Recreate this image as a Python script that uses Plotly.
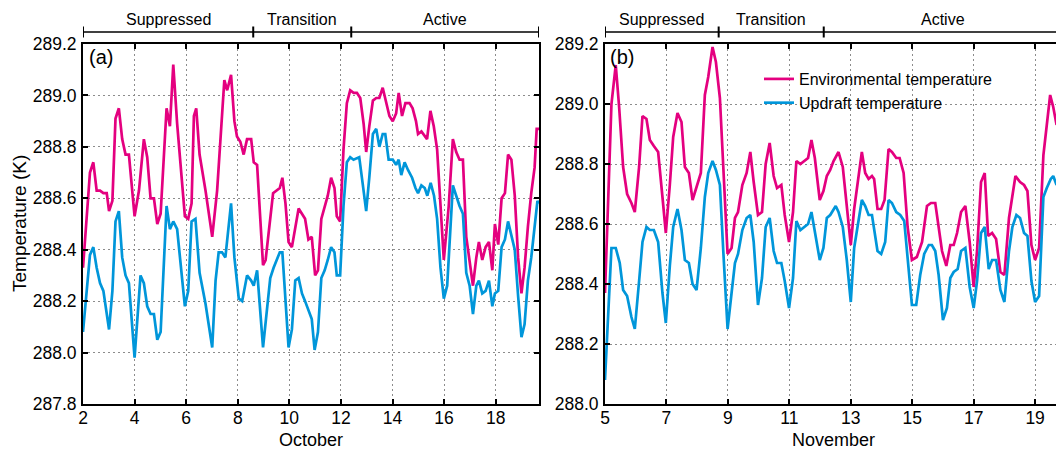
import plotly.graph_objects as go

# ---------------- October (panel a) ----------------
oct_env_day = [2.0, 2.27, 2.40, 2.53, 2.66, 2.79, 2.92, 3.01, 3.14, 3.26,
               3.39, 3.52, 3.65, 3.78, 4.00, 4.17, 4.36, 4.49, 4.62, 4.75,
               4.88, 5.01, 5.24, 5.37, 5.50, 5.65, 5.95, 6.08, 6.21, 6.30,
               6.39, 6.52, 6.75, 7.01, 7.20, 7.48, 7.59, 7.74, 7.87, 7.97,
               8.10, 8.23, 8.36, 8.52, 8.62, 8.75, 8.98, 9.08, 9.37, 9.63,
               9.73, 9.85, 9.97, 10.10, 10.36, 10.61, 10.74, 10.87, 11.00, 11.11,
               11.24, 11.37, 11.49, 11.62, 11.75, 11.84, 11.97, 12.10, 12.23, 12.36,
               12.49, 12.62, 12.75, 12.88, 12.98, 13.10, 13.24, 13.37, 13.49, 13.62,
               13.75, 13.88, 14.01, 14.14, 14.24, 14.37, 14.50, 14.66, 14.78, 14.91,
               14.99, 15.12, 15.34, 15.47, 15.60, 15.73, 15.99, 16.18, 16.34, 16.47,
               16.60, 16.73, 16.86, 16.99, 17.12, 17.25, 17.35, 17.48, 17.61, 17.74,
               17.87, 17.97, 18.10, 18.23, 18.36, 18.48, 18.61, 18.74, 18.87, 19.00,
               19.12, 19.25, 19.38, 19.51, 19.59, 19.68]
oct_env = [288.33, 288.70, 288.74, 288.63, 288.63, 288.62, 288.62, 288.55, 288.59, 288.91,
           288.95, 288.83, 288.77, 288.77, 288.53, 288.63, 288.83, 288.76, 288.60, 288.60,
           288.50, 288.54, 288.95, 288.88, 289.12, 288.89, 288.53, 288.52, 288.58, 288.92,
           288.95, 288.77, 288.63, 288.45, 288.63, 289.06, 289.02, 289.08, 288.90, 288.84,
           288.82, 288.77, 288.83, 288.83, 288.74, 288.73, 288.34, 288.36, 288.62, 288.64,
           288.68, 288.58, 288.43, 288.41, 288.56, 288.52, 288.44, 288.45, 288.30, 288.32,
           288.52, 288.57, 288.61, 288.68, 288.64, 288.53, 288.51, 288.79, 288.97, 289.02,
           289.01, 289.01, 288.99, 288.89, 288.78, 288.88, 288.98, 288.99, 288.99, 289.03,
           288.98, 288.92, 288.90, 288.93, 289.01, 288.92, 288.97, 288.97, 288.95, 288.90,
           288.85, 288.86, 288.83, 288.94, 288.88, 288.79, 288.36, 288.57, 288.83, 288.78,
           288.75, 288.75, 288.45, 288.36, 288.26, 288.37, 288.43, 288.36, 288.41, 288.43,
           288.32, 288.50, 288.42, 288.60, 288.62, 288.77, 288.75, 288.61, 288.37, 288.23,
           288.33, 288.49, 288.62, 288.72, 288.87, 288.87]

oct_up_day = [2.0, 2.27, 2.40, 2.53, 2.66, 2.79, 3.01, 3.14, 3.26, 3.39,
              3.52, 3.65, 3.78, 4.00, 4.23, 4.36, 4.49, 4.62, 4.75, 4.88,
              5.01, 5.24, 5.37, 5.50, 5.65, 5.95, 6.08, 6.21, 6.36, 6.52,
              6.75, 7.01, 7.14, 7.26, 7.39, 7.52, 7.74, 7.87, 8.04, 8.17,
              8.36, 8.52, 8.62, 8.75, 8.98, 9.14, 9.26, 9.39, 9.63, 9.73,
              9.97, 10.10, 10.23, 10.36, 10.49, 10.61, 10.87, 10.98, 11.11, 11.24,
              11.37, 11.49, 11.62, 11.75, 11.84, 11.97, 12.10, 12.23, 12.36, 12.49,
              12.71, 12.84, 12.98, 13.10, 13.24, 13.37, 13.49, 13.62, 13.72, 13.85,
              14.01, 14.14, 14.24, 14.34, 14.47, 14.60, 14.76, 14.89, 14.99, 15.12,
              15.25, 15.35, 15.48, 15.61, 15.73, 15.86, 15.99, 16.12, 16.34, 16.47,
              16.60, 16.73, 16.86, 16.99, 17.12, 17.25, 17.35, 17.48, 17.61, 17.74,
              17.87, 17.97, 18.10, 18.23, 18.36, 18.48, 18.61, 18.74, 18.87, 19.00,
              19.12, 19.25, 19.38, 19.51, 19.62, 19.68]
oct_up = [288.08, 288.38, 288.41, 288.33, 288.27, 288.24, 288.09, 288.24, 288.51, 288.55,
          288.37, 288.30, 288.27, 287.98, 288.30, 288.27, 288.18, 288.15, 288.15, 288.05,
          288.08, 288.57, 288.48, 288.51, 288.48, 288.18, 288.24, 288.51, 288.52, 288.31,
          288.19, 288.02, 288.28, 288.39, 288.39, 288.37, 288.58, 288.37, 288.21, 288.20,
          288.30, 288.28, 288.26, 288.32, 288.02, 288.18, 288.29, 288.33, 288.39, 288.39,
          288.02, 288.09, 288.28, 288.29, 288.23, 288.20, 288.13, 288.01, 288.08, 288.29,
          288.32, 288.36, 288.41, 288.39, 288.30, 288.30, 288.57, 288.74, 288.76, 288.75,
          288.76, 288.66, 288.55, 288.68, 288.85, 288.87, 288.80, 288.85, 288.85, 288.75,
          288.75, 288.73, 288.75, 288.69, 288.74, 288.71, 288.68, 288.64, 288.62, 288.65,
          288.64, 288.61, 288.66, 288.61, 288.52, 288.33, 288.21, 288.26, 288.65, 288.61,
          288.57, 288.54, 288.31, 288.26, 288.15, 288.26, 288.28, 288.23, 288.24, 288.28,
          288.18, 288.23, 288.24, 288.41, 288.44, 288.51, 288.46, 288.40, 288.22, 288.06,
          288.11, 288.28, 288.37, 288.48, 288.59, 288.58]

# ---------------- November (panel b) ----------------
nov_env_day = [5.0, 5.21, 5.35, 5.46, 5.59, 5.72, 5.86, 5.97, 6.11, 6.22,
               6.35, 6.46, 6.59, 6.73, 6.87, 6.98, 7.11, 7.22, 7.36, 7.49,
               7.60, 7.73, 7.85, 7.98, 8.12, 8.25, 8.36, 8.50, 8.61, 8.74,
               8.85, 8.99, 9.12, 9.23, 9.33, 9.47, 9.61, 9.73, 9.84, 9.98,
               10.11, 10.23, 10.36, 10.49, 10.60, 10.74, 10.85, 10.99, 11.12, 11.23,
               11.36, 11.47, 11.61, 11.72, 11.83, 11.99, 12.11, 12.22, 12.33, 12.44,
               12.60, 12.74, 12.87, 13.0, 13.11, 13.25, 13.36, 13.47, 13.58, 13.69,
               13.76, 13.87, 13.99, 14.10, 14.23, 14.34, 14.48, 14.59, 14.72, 14.85,
               14.99, 15.15, 15.32, 15.48, 15.61, 15.75, 15.86, 15.97, 16.11, 16.24,
               16.35, 16.46, 16.59, 16.73, 16.87, 17.0, 17.11, 17.24, 17.36, 17.47,
               17.60, 17.73, 17.87, 18.0, 18.15, 18.26, 18.36, 18.51, 18.64, 18.75,
               18.88, 19.0, 19.13, 19.27, 19.38, 19.49, 19.59, 19.70]
nov_env = [288.37, 289.00, 289.13, 288.99, 288.79, 288.70, 288.67, 288.64, 288.79, 288.96,
           288.95, 288.88, 288.86, 288.84, 288.69, 288.57, 288.73, 288.89, 288.97, 288.94,
           288.79, 288.77, 288.68, 288.72, 288.77, 289.03, 289.09, 289.19, 289.14, 289.02,
           288.79, 288.50, 288.52, 288.62, 288.64, 288.73, 288.77, 288.84, 288.74, 288.63,
           288.64, 288.80, 288.87, 288.76, 288.72, 288.73, 288.63, 288.54, 288.64, 288.81,
           288.80, 288.81, 288.82, 288.88, 288.82, 288.68, 288.71, 288.76, 288.78, 288.81,
           288.84, 288.79, 288.66, 288.53, 288.65, 288.76, 288.84, 288.77, 288.75, 288.76,
           288.75, 288.65, 288.65, 288.68, 288.85, 288.84, 288.82, 288.82, 288.77, 288.59,
           288.48, 288.49, 288.54, 288.66, 288.67, 288.67, 288.59, 288.51, 288.46, 288.53,
           288.53, 288.57, 288.64, 288.66, 288.54, 288.39, 288.51, 288.74, 288.77, 288.56,
           288.57, 288.55, 288.44, 288.43, 288.62, 288.70, 288.76, 288.74, 288.73, 288.71,
           288.53, 288.48, 288.52, 288.83, 288.94, 289.03, 288.99, 288.93]

nov_up_day = [5.0, 5.21, 5.35, 5.48, 5.59, 5.72, 5.86, 5.97, 6.11, 6.22,
              6.35, 6.46, 6.59, 6.73, 6.87, 6.98, 7.11, 7.22, 7.36, 7.49,
              7.60, 7.73, 7.85, 7.98, 8.12, 8.25, 8.36, 8.50, 8.61, 8.74,
              8.85, 8.99, 9.12, 9.23, 9.33, 9.47, 9.61, 9.73, 9.84, 9.98,
              10.11, 10.23, 10.36, 10.49, 10.60, 10.74, 10.85, 10.99, 11.12, 11.23,
              11.36, 11.47, 11.61, 11.72, 11.83, 11.99, 12.11, 12.22, 12.33, 12.51,
              12.60, 12.74, 12.87, 13.0, 13.11, 13.25, 13.36, 13.47, 13.58, 13.69,
              13.79, 13.87, 13.99, 14.12, 14.23, 14.34, 14.48, 14.61, 14.74, 14.85,
              14.99, 15.13, 15.26, 15.39, 15.54, 15.64, 15.75, 15.86, 16.0, 16.13,
              16.24, 16.35, 16.48, 16.59, 16.73, 16.87, 17.0, 17.11, 17.24, 17.36,
              17.49, 17.60, 17.73, 17.87, 18.0, 18.15, 18.26, 18.39, 18.51, 18.64,
              18.75, 18.88, 19.0, 19.13, 19.27, 19.38, 19.51, 19.59, 19.70]
nov_up = [288.08, 288.52, 288.52, 288.47, 288.38, 288.36, 288.29, 288.25, 288.41, 288.54,
          288.59, 288.58, 288.58, 288.54, 288.37, 288.27, 288.46, 288.59, 288.65, 288.58,
          288.48, 288.47, 288.40, 288.38, 288.52, 288.69, 288.77, 288.81, 288.78, 288.73,
          288.51, 288.25, 288.37, 288.47, 288.50, 288.58, 288.62, 288.63, 288.54, 288.33,
          288.42, 288.59, 288.62, 288.51, 288.47, 288.47, 288.41, 288.32, 288.42, 288.61,
          288.58, 288.59, 288.60, 288.64, 288.57, 288.48, 288.52, 288.62, 288.63, 288.66,
          288.64, 288.59, 288.48, 288.34, 288.52, 288.61, 288.68, 288.66, 288.63, 288.63,
          288.56, 288.51, 288.50, 288.54, 288.68, 288.67, 288.64, 288.63, 288.61, 288.49,
          288.33, 288.33, 288.43, 288.50, 288.53, 288.53, 288.51, 288.43, 288.28, 288.32,
          288.42, 288.44, 288.45, 288.51, 288.52, 288.39, 288.32, 288.41, 288.57, 288.59,
          288.45, 288.48, 288.48, 288.38, 288.34, 288.51, 288.59, 288.63, 288.62, 288.57,
          288.56, 288.41, 288.34, 288.36, 288.69, 288.72, 288.75, 288.76, 288.73]

# Convective phases: names and day boundaries for each period
phase_names = ["Suppressed", "Transition", "Active"]
oct_phase_bounds = [2.0, 8.6, 12.4, 19.68]
nov_phase_bounds = [5.0, 8.7, 12.12, 19.88]

series_names = ["Environmental temperature", "Updraft temperature"]
ENV_COLOR = "#E4007F"
UP_COLOR = "#0096DA"
FONT = "Liberation Sans, Arial, sans-serif"

W, H = 1056, 450


def px_x(p):
    return p / W


def px_y(p):
    return (H - p) / H


fig = go.Figure()

fig.add_trace(go.Scatter(x=oct_env_day, y=oct_env, mode="lines", name=series_names[0],
                         line=dict(color=ENV_COLOR, width=2.7), xaxis="x", yaxis="y",
                         showlegend=False))
fig.add_trace(go.Scatter(x=oct_up_day, y=oct_up, mode="lines", name=series_names[1],
                         line=dict(color=UP_COLOR, width=2.7), xaxis="x", yaxis="y",
                         showlegend=False))
fig.add_trace(go.Scatter(x=nov_env_day, y=nov_env, mode="lines", name=series_names[0],
                         line=dict(color=ENV_COLOR, width=2.7), xaxis="x2", yaxis="y2"))
fig.add_trace(go.Scatter(x=nov_up_day, y=nov_up, mode="lines", name=series_names[1],
                         line=dict(color=UP_COLOR, width=2.7), xaxis="x2", yaxis="y2"))

tickfont = dict(family=FONT, size=17.5, color="black")
common_axis = dict(
    showline=True, linecolor="black", linewidth=2,
    ticks="inside", ticklen=5, tickwidth=1.5, tickcolor="black",
    showgrid=True, gridcolor="#8c8c8c", gridwidth=1, griddash="2px,3px",
    zeroline=False, tickfont=tickfont, automargin=False,
)

y_dom = [px_y(404), px_y(44)]
a_dom = [px_x(83), px_x(539)]
b_dom = [px_x(605), 1.0]

fig.update_layout(
    template="none",
    width=W, height=H,
    margin=dict(l=0, r=0, t=0, b=0, pad=0, autoexpand=False),
    paper_bgcolor="white", plot_bgcolor="white",
    font=dict(family=FONT, color="black"),
    xaxis=dict(domain=a_dom, range=[2, 19.68], tick0=2, dtick=2, mirror="ticks",
               anchor="y", ticklabelstandoff=-3, **common_axis),
    yaxis=dict(domain=y_dom, range=[287.8, 289.2], tick0=287.8, dtick=0.2,
               tickformat=".1f", mirror="ticks", anchor="x", ticklabelstandoff=1,
               **common_axis),
    xaxis2=dict(domain=b_dom, range=[5, 19.68], tick0=5, dtick=2, mirror="ticks",
                anchor="y2", ticklabelstandoff=-3, **common_axis),
    yaxis2=dict(domain=y_dom, range=[288.0, 289.2], tick0=288.0, dtick=0.2,
                tickformat=".1f", mirror=False, anchor="x2", ticklabelstandoff=1,
                **common_axis),
    legend=dict(x=px_x(759), y=px_y(62), xanchor="left", yanchor="top",
                bgcolor="rgba(0,0,0,0)", borderwidth=0,
                font=dict(family=FONT, size=16, color="black"),
                tracegroupgap=0, itemwidth=30),
)

annotations = []
shapes = []

# Phase bars above each panel
for xref, bounds in (("x", oct_phase_bounds), ("x2", nov_phase_bounds)):
    shapes.append(dict(type="line", xref=xref, yref="paper",
                       x0=bounds[0], x1=bounds[-1],
                       y0=px_y(32), y1=px_y(32), line=dict(color="black", width=1.6)))
    for b in bounds:
        shapes.append(dict(type="line", xref=xref, yref="paper", x0=b, x1=b,
                           y0=px_y(26.5), y1=px_y(37.5), line=dict(color="black", width=2)))
    for name, lo, hi in zip(phase_names, bounds[:-1], bounds[1:]):
        annotations.append(dict(text=name, xref=xref, yref="paper", x=(lo + hi) / 2,
                                y=px_y(19.5), showarrow=False, xanchor="center",
                                yanchor="middle",
                                font=dict(family=FONT, size=16, color="black")))

# Panel letters
annotations.append(dict(text="(a)", xref="paper", yref="paper", x=px_x(100.5), y=px_y(57.5),
                        showarrow=False, xanchor="center", yanchor="middle",
                        font=dict(family=FONT, size=20, color="black")))
annotations.append(dict(text="(b)", xref="paper", yref="paper", x=px_x(621.5), y=px_y(57.5),
                        showarrow=False, xanchor="center", yanchor="middle",
                        font=dict(family=FONT, size=20, color="black")))

# Axis titles
annotations.append(dict(text="Temperature (K)", xref="paper", yref="paper", x=px_x(19),
                        y=px_y(224), textangle=-90, showarrow=False, xanchor="center",
                        yanchor="middle", font=dict(family=FONT, size=19, color="black")))
annotations.append(dict(text="October", xref="paper", yref="paper", x=px_x(311),
                        y=px_y(440), showarrow=False, xanchor="center", yanchor="middle",
                        font=dict(family=FONT, size=18, color="black")))
annotations.append(dict(text="November", xref="paper", yref="paper", x=px_x(833.5),
                        y=px_y(440), showarrow=False, xanchor="center", yanchor="middle",
                        font=dict(family=FONT, size=18, color="black")))

fig.update_layout(annotations=annotations, shapes=shapes)

fig.write_html("out.html")
